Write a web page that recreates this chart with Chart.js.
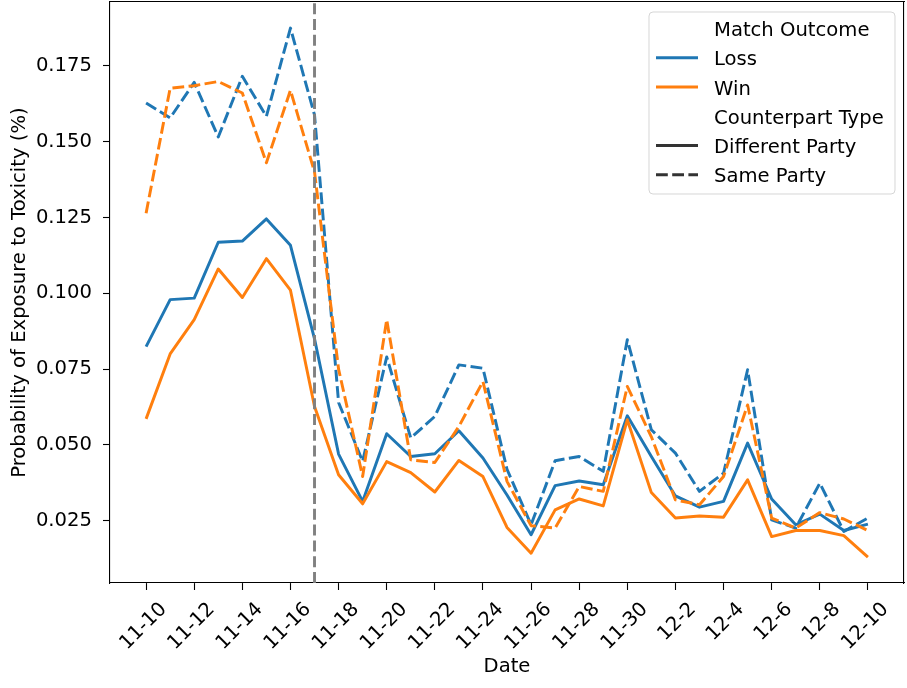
<!DOCTYPE html>
<html><head><meta charset="utf-8">
<script src="https://cdn.jsdelivr.net/npm/chart.js@4"></script>
<style>html,body{margin:0;padding:0;background:#fff;} canvas{display:block;}</style>
</head><body>
<canvas id="c" width="907" height="688"></canvas>
<script>
const dates = ['11-10','11-11','11-12','11-13','11-14','11-15','11-16','11-17','11-18','11-19','11-20','11-21','11-22','11-23','11-24','11-25','11-26','11-27','11-28','11-29','11-30','12-1','12-2','12-3','12-4','12-5','12-6','12-7','12-8','12-9','12-10'];
const xTickLabels = ['11-10','11-12','11-14','11-16','11-18','11-20','11-22','11-24','11-26','11-28','11-30','12-2','12-4','12-6','12-8','12-10'];
const yTickValues = [0.025, 0.050, 0.075, 0.100, 0.125, 0.150, 0.175];

const lossDifferentParty = [0.0824,0.0979,0.0984,0.1168,0.1172,0.1245,0.1158,0.0850,0.0470,0.0314,0.0537,0.0462,0.0471,0.0547,0.0457,0.0335,0.0204,0.0366,0.0381,0.0369,0.0596,0.0462,0.0332,0.0295,0.0314,0.0506,0.0322,0.0237,0.0272,0.0218,0.0239];
const winDifferentParty  = [0.0586,0.0800,0.0913,0.1080,0.0986,0.1114,0.1010,0.0627,0.0402,0.0306,0.0445,0.0409,0.0345,0.0449,0.0396,0.0228,0.0143,0.0286,0.0322,0.0299,0.0583,0.0343,0.0259,0.0266,0.0262,0.0385,0.0198,0.0218,0.0218,0.0201,0.0130];
const lossSameParty      = [0.1627,0.1578,0.1695,0.1515,0.1715,0.1583,0.1874,0.1588,0.0640,0.0446,0.0790,0.0523,0.0594,0.0764,0.0753,0.0420,0.0237,0.0448,0.0462,0.0413,0.0847,0.0550,0.0473,0.0347,0.0407,0.0748,0.0253,0.0226,0.0374,0.0215,0.0259];
const winSameParty       = [0.1264,0.1676,0.1684,0.1698,0.1660,0.1430,0.1669,0.1400,0.0750,0.0396,0.0913,0.0451,0.0442,0.0561,0.0709,0.0380,0.0234,0.0226,0.0363,0.0347,0.0693,0.0527,0.0319,0.0303,0.0396,0.0632,0.0259,0.0226,0.0277,0.0256,0.0218];

const outcomeLabels = ['Loss', 'Win'];
const typeLabels = ['Different Party', 'Same Party'];
const legendTitles = ['Match Outcome', 'Counterpart Type'];
const eventDate = '11-17';
const xTitle = 'Date';
const yTitle = 'Probability of Exposure to Toxicity (%)';

const BLUE = '#1f77b4', ORANGE = '#ff7f0e', DARK = '#333333', VGRAY = '#808080';
const LW = 2.95;
const DASH = [11.8, 4.4];
const FONT = {family: '"DejaVu Sans", sans-serif', size: 19.6};
const Y_MIN = 0.0045, Y_MAX = 0.196;
const X_MIN = -1.5, X_MAX = dates.length - 1 + 1.5;

const toPts = arr => arr.map((v, i) => ({x: i, y: v}));
const evtIdx = dates.indexOf(eventDate);

function lineDs(label, arr, color, dash, order) {
  return {
    label, data: toPts(arr), borderColor: color, backgroundColor: color,
    borderWidth: LW, borderDash: dash, pointRadius: 0, tension: 0, fill: false,
    borderJoinStyle: 'round', borderCapStyle: 'butt', order
  };
}
function zeroPad(s) { s.paddingTop = 0; s.paddingBottom = 0; s.paddingLeft = 0; s.paddingRight = 0; }

const legendPlugin = {
  id: 'customLegend',
  afterDraw(chart) {
    const ctx = chart.ctx, ca = chart.chartArea;
    const bw = 246, bh = 182;
    const bx = ca.right - 255, by = ca.top + 10;
    ctx.save();
    ctx.beginPath();
    if (ctx.roundRect) ctx.roundRect(bx, by, bw, bh, 4); else ctx.rect(bx, by, bw, bh);
    ctx.fillStyle = 'rgba(255,255,255,0.8)';
    ctx.fill();
    ctx.strokeStyle = 'rgba(204,204,204,0.8)';
    ctx.lineWidth = 1;
    ctx.stroke();
    const entries = [
      {text: legendTitles[0]},
      {text: outcomeLabels[0], color: BLUE, dash: []},
      {text: outcomeLabels[1], color: ORANGE, dash: []},
      {text: legendTitles[1]},
      {text: typeLabels[0], color: DARK, dash: []},
      {text: typeLabels[1], color: DARK, dash: DASH}
    ];
    ctx.font = FONT.size + 'px ' + FONT.family;
    ctx.textBaseline = 'alphabetic';
    ctx.textAlign = 'left';
    entries.forEach((e, k) => {
      const cy = by + 17 + k * 29.25;
      if (e.color) {
        ctx.beginPath();
        ctx.setLineDash(e.dash);
        ctx.strokeStyle = e.color;
        ctx.lineWidth = LW;
        ctx.lineCap = 'butt';
        ctx.moveTo(bx + 7, cy - 0.5);
        ctx.lineTo(bx + 49, cy - 0.5);
        ctx.stroke();
        ctx.setLineDash([]);
      }
      ctx.fillStyle = '#000';
      ctx.fillText(e.text, bx + 65, cy + 7.2);
    });
    ctx.restore();
  }
};

new Chart(document.getElementById('c'), {
  type: 'line',
  data: {
    datasets: [
      {
        label: 'event', data: [{x: evtIdx, y: Y_MIN}, {x: evtIdx, y: Y_MAX}],
        borderColor: VGRAY, borderWidth: 2.9, borderDash: [11, 4.8], pointRadius: 0, order: 0
      },
      lineDs('Loss / Different Party', lossDifferentParty, BLUE, [], 4),
      lineDs('Loss / Same Party', lossSameParty, BLUE, DASH, 3),
      lineDs('Win / Different Party', winDifferentParty, ORANGE, [], 2),
      lineDs('Win / Same Party', winSameParty, ORANGE, DASH, 1)
    ]
  },
  options: {
    responsive: false,
    devicePixelRatio: 1,
    animation: false,
    layout: {padding: 0},
    plugins: {legend: {display: false}, tooltip: {enabled: false}},
    scales: {
      x: {
        type: 'linear', position: 'bottom', min: X_MIN, max: X_MAX,
        afterBuildTicks: s => { s.ticks = xTickLabels.map(l => ({value: dates.indexOf(l)})); },
        afterFit: s => { s.height = 105; zeroPad(s); },
        ticks: {
          autoSkip: false, minRotation: 45, maxRotation: 45, labelOffset: 17.5, padding: 8,
          color: '#000', font: FONT,
          callback: v => dates[v]
        },
        grid: {display: true, drawOnChartArea: false, drawTicks: true, tickLength: 7, tickWidth: 1.1, tickColor: '#000'},
        border: {display: true, color: '#000', width: 1.1},
        title: {display: true, text: xTitle, color: '#000', font: FONT, padding: {top: 0, bottom: 9}}
      },
      y: {
        type: 'linear', position: 'left', min: Y_MIN, max: Y_MAX,
        afterBuildTicks: s => { s.ticks = yTickValues.map(v => ({value: v})); },
        afterFit: s => { s.width = 110; zeroPad(s); },
        ticks: {color: '#000', font: FONT, padding: 11, callback: v => Number(v).toFixed(3)},
        grid: {display: true, drawOnChartArea: false, drawTicks: true, tickLength: 7, tickWidth: 1.1, tickColor: '#000'},
        border: {display: true, color: '#000', width: 1.1},
        title: {display: true, text: yTitle, color: '#000', font: FONT, padding: {top: 8, bottom: 0}}
      },
      x2: {
        type: 'linear', position: 'top', min: X_MIN, max: X_MAX,
        afterFit: s => { s.height = 2; zeroPad(s); },
        ticks: {display: false},
        grid: {display: false},
        border: {display: true, color: '#000', width: 1.1}
      },
      y2: {
        type: 'linear', position: 'right', min: Y_MIN, max: Y_MAX,
        afterFit: s => { s.width = 3; zeroPad(s); },
        ticks: {display: false},
        grid: {display: false},
        border: {display: true, color: '#000', width: 1.1}
      }
    }
  },
  plugins: [legendPlugin]
});
</script>
</body></html>
